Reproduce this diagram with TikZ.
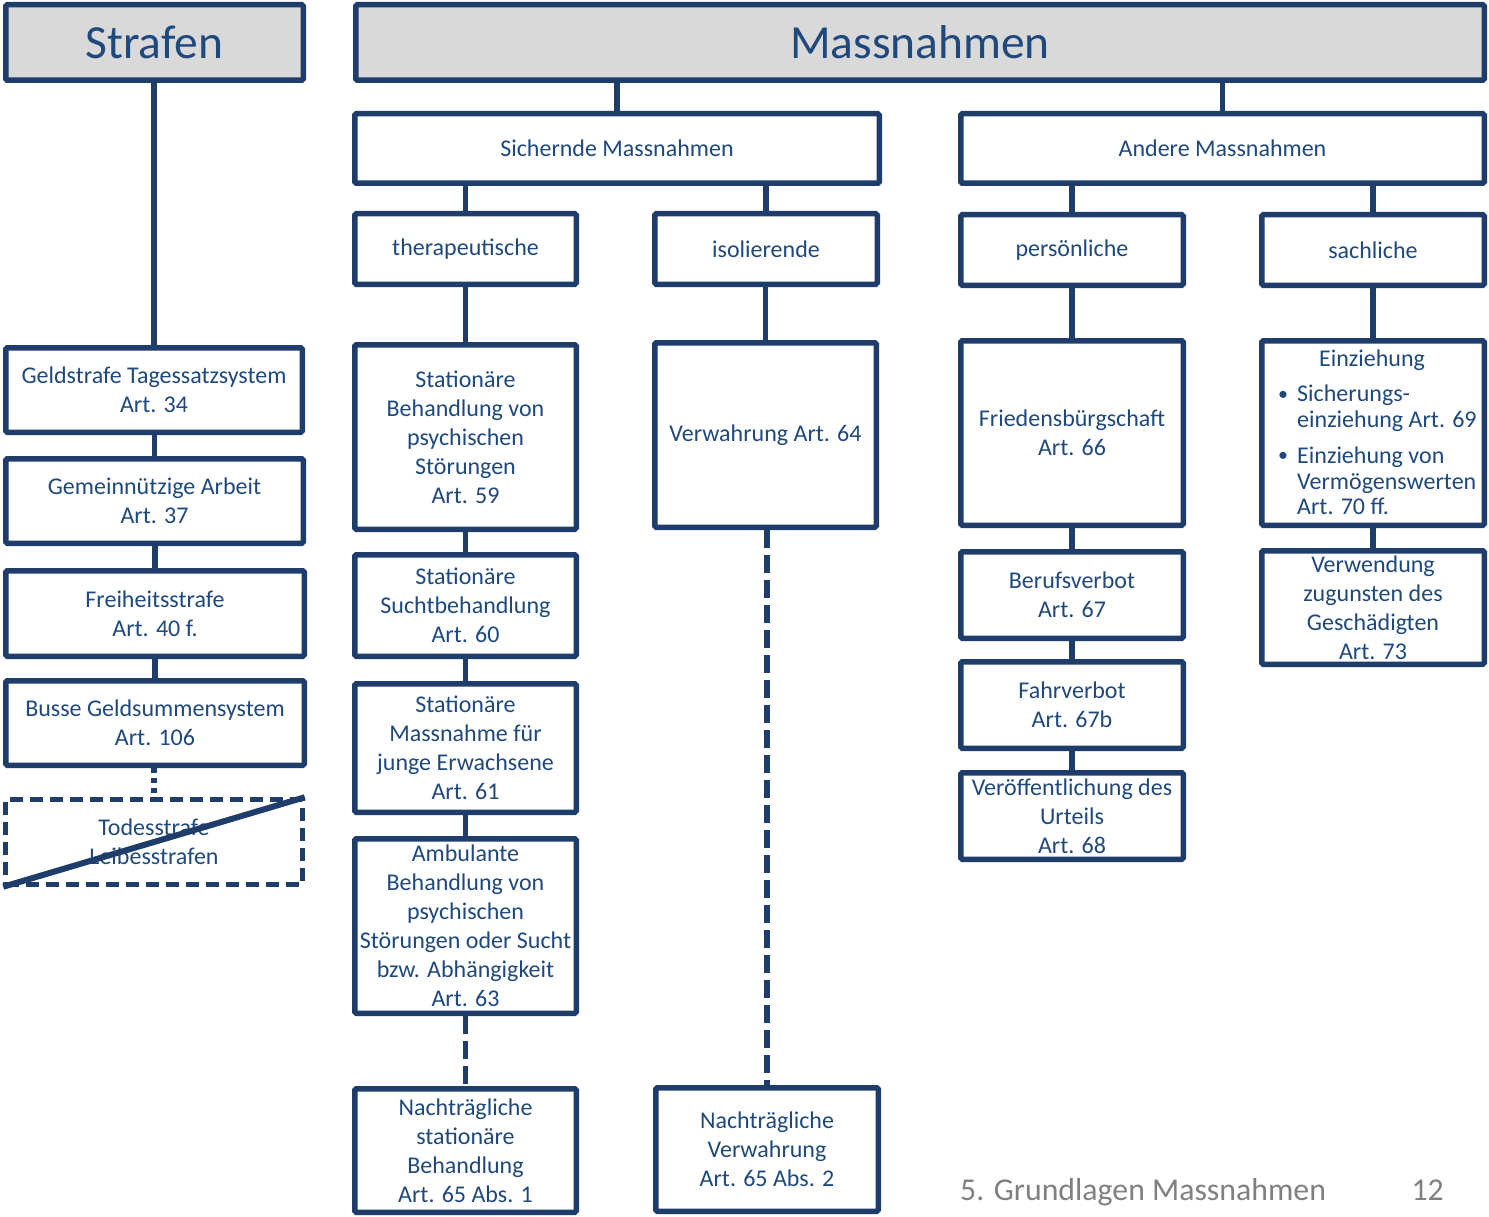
\documentclass[tikz,border=0pt]{standalone}
\usepackage{fontspec}
\setmainfont{Carlito}
\definecolor{bord}{HTML}{1F3D6B}
\definecolor{txt}{HTML}{1F497D}
\definecolor{foot}{HTML}{808080}
\definecolor{head}{HTML}{D9D9D9}
\tikzset{
  box/.style={draw=bord, line width=5.5pt, rounded corners=1.5pt, fill=white, text=txt, align=center, inner sep=0pt, font=\fontsize{24}{29}\selectfont},
  headbox/.style={box, fill=head, font=\fontsize{47.5}{52}\selectfont},
  crossedbox/.style={box, fill=none, line width=5pt, dash pattern=on 13pt off 7pt, rounded corners=0pt},
  conn/.style={draw=bord, line width=5.5pt},
  dconn/.style={conn, dash pattern=on 18pt off 7pt},
  dotconn/.style={conn, dash pattern=on 5pt off 5pt},
  txtn/.style={text=txt, inner sep=0pt, font=\fontsize{24}{26}\selectfont},
  footn/.style={text=foot, inner sep=0pt, font=\fontsize{31.8}{36}\selectfont},
}
\newcommand\placebox[7][]{%
  \node[box,#1,minimum width={(#5-#3-5.5)*1pt},minimum height={(#6-#4-5.5)*1pt}] (#2) at ({(#3+#5)/2},{(#4+#6)/2}) {#7};}
\newcommand\vconn[3][]{\draw[conn,#1] (#3.north |- #2.south) -- (#3.north);}
\begin{document}
\begin{tikzpicture}[x=1pt,y=-1pt]
\useasboundingbox (0,0) rectangle (1489,1217);
% headers
\placebox[headbox]{straf}{3}{2}{306}{83}{Strafen}
\placebox[headbox]{mass}{353}{2}{1487}{83}{Massnahmen}
% level 2
\placebox{sich}{352}{111}{882}{186}{Sichernde Massnahmen}
\placebox{andere}{958}{111}{1487}{186}{Andere Massnahmen}
% level 3
\placebox{thera}{352}{211}{579}{287}{therapeutische}
\placebox{iso}{652}{211}{880}{287}{isolierende}
\placebox{pers}{958}{212}{1186}{288}{persönliche}
\placebox{sach}{1259}{212}{1487}{288}{sachliche}
% Strafen column
\placebox{geld}{3}{345}{305}{435}{Geldstrafe Tagessatzsystem\\Art. 34}
\placebox{gemein}{3}{456}{306}{546}{Gemeinnützige Arbeit\\Art. 37}
\placebox{frei}{3}{568}{307}{659}{Freiheitsstrafe\\Art. 40 f.}
\placebox{busse}{3}{678}{307}{768}{Busse Geldsummensystem\\Art. 106}
\placebox[crossedbox]{todes}{3}{797}{305}{887}{Todesstrafe\\Leibesstrafen}
\draw[conn, line width=6pt] (todes.south west) -- (todes.north east);
% therapeutische column
\placebox{a59}{352}{342}{579}{532}{Stationäre\\Behandlung von\\psychischen\\Störungen\\Art. 59}
\placebox{a60}{352}{552}{579}{659}{Stationäre\\Suchtbehandlung\\Art. 60}
\placebox{a61}{352}{681}{579}{815}{Stationäre\\Massnahme für\\junge Erwachsene\\Art. 61}
\placebox{a63}{352}{836}{579}{1016}{Ambulante\\Behandlung von\\psychischen\\Störungen oder Sucht\\bzw. Abhängigkeit\\Art. 63}
\placebox{a65a}{352}{1086}{579}{1215}{Nachträgliche\\stationäre\\Behandlung\\Art. 65 Abs. 1}
% isolierende column
\placebox{a64}{652}{340}{879}{530}{Verwahrung Art. 64}
\placebox{a65b}{653}{1085}{881}{1214}{Nachträgliche\\Verwahrung\\Art. 65 Abs. 2}
% persoenliche column
\placebox{a66}{958}{338}{1186}{528}{Friedensbürgschaft\\Art. 66}
\placebox{a67}{958}{549}{1186}{641}{Berufsverbot\\Art. 67}
\placebox{a67b}{958}{659}{1186}{751}{Fahrverbot\\Art. 67b}
\placebox{a68}{958}{770}{1186}{862}{Veröffentlichung des\\Urteils\\Art. 68}
% sachliche column
\placebox{einz}{1259}{338}{1487}{528}{}
\node[txtn, anchor=base] (einzT) at (1372,366) {Einziehung};
\node[txtn, anchor=base west, font=\fontsize{20}{22}\selectfont] (bul1) at (1278,400) {•};
\node[txtn, anchor=base west] (e1a) at (1297,401) {Sicherungs-};
\node[txtn, anchor=base west] (e1b) at (1297,427) {einziehung Art. 69};
\node[txtn, anchor=base west, font=\fontsize{20}{22}\selectfont] (bul2) at (1278,461) {•};
\node[txtn, anchor=base west] (e2a) at (1297,463) {Einziehung von};
\node[txtn, anchor=base west] (e2b) at (1297,489) {Vermögenswerten};
\node[txtn, anchor=base west] (e2c) at (1297,514) {Art. 70 ff.};
\placebox{a73}{1259}{548}{1487}{667}{Verwendung\\zugunsten des\\Geschädigten\\Art. 73}
% connectors
\vconn{straf}{geld}
\vconn{geld}{gemein}
\vconn{gemein}{frei}
\vconn{frei}{busse}
\vconn[dotconn]{busse}{todes}
\vconn{mass}{sich}
\vconn{mass}{andere}
\vconn{sich}{thera}
\vconn{sich}{iso}
\vconn{andere}{pers}
\vconn{andere}{sach}
\vconn{thera}{a59}
\vconn{a59}{a60}
\vconn{a60}{a61}
\vconn{a61}{a63}
\vconn[dconn]{a63}{a65a}
\vconn{iso}{a64}
\vconn[dconn]{a64}{a65b}
\vconn{pers}{a66}
\vconn{a66}{a67}
\vconn{a67}{a67b}
\vconn{a67b}{a68}
\vconn{sach}{einz}
\vconn{einz}{a73}
% footer
\node[footn, anchor=base west] (footL) at (960,1200) {5. Grundlagen Massnahmen};
\node[footn, anchor=base east] (footR) at (1444,1200) {12};
\end{tikzpicture}
\end{document}
